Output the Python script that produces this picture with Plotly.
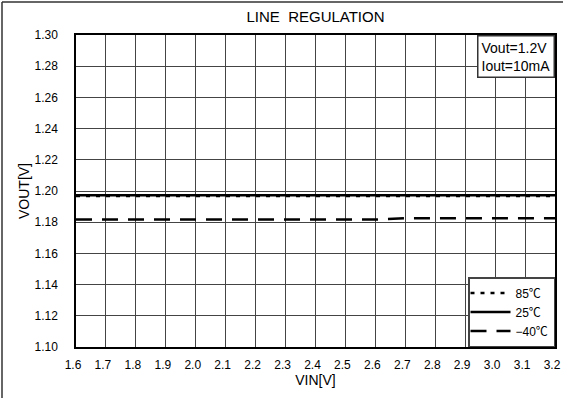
import plotly.graph_objects as go

vin = [1.6, 1.7, 1.8, 1.9, 2.0, 2.1, 2.2, 2.3, 2.4, 2.5, 2.6, 2.7, 2.8, 2.9, 3.0, 3.1, 3.2]
vout_85 = [1.1968] * 17
vout_25 = [1.1972] * 17
vout_m40 = [1.1817, 1.1817, 1.1817, 1.1817, 1.1817, 1.1817, 1.1817, 1.1817, 1.1817, 1.1817, 1.1817,
            1.1826, 1.1826, 1.1826, 1.1826, 1.1826, 1.1826]
series_names = ["85℃", "25℃", "−40℃"]

FONT = "Liberation Sans, Noto Sans CJK JP, sans-serif"

fig = go.Figure()
fig.add_trace(go.Scatter(x=vin, y=vout_85, mode="lines", name=series_names[0],
                         line=dict(color="black", width=2.5, dash="4px,6px")))
fig.add_trace(go.Scatter(x=vin, y=vout_25, mode="lines", name=series_names[1],
                         line=dict(color="black", width=2.5)))
fig.add_trace(go.Scatter(x=vin, y=vout_m40, mode="lines", name=series_names[2],
                         line=dict(color="black", width=2.5, dash="16px,10px")))

W, H = 563, 398
L, R, T, B = 76, 8, 35, 51
pw, ph = W - L - R, H - T - B

def px(x):
    return (x - L) / pw

def py(y):
    return (H - B - y) / ph

fig.update_layout(
    width=W, height=H,
    margin=dict(l=L, r=R, t=T, b=B, autoexpand=False),
    paper_bgcolor="white", plot_bgcolor="white",
    font=dict(family=FONT, size=12, color="black"),
    title=dict(text="LINE  REGULATION", x=px(315.5), xanchor="center", y=1 - 17 / H, yanchor="middle",
               xref="paper", font=dict(size=15, family=FONT)),
    showlegend=True,
    legend=dict(x=1, xanchor="right", y=0, yanchor="bottom", bgcolor="white",
                bordercolor="#444", borderwidth=1.5, font=dict(size=12, family=FONT),
                itemwidth=40, tracegroupgap=0, indentation=-4),
    xaxis=dict(range=[1.6, 3.2], dtick=0.1, tick0=1.6, tickformat=".1f",
               showgrid=True, gridcolor="#444", gridwidth=1,
               showline=True, linecolor="black", linewidth=1.5, mirror=True,
               ticks="", ticklabelstandoff=6, ticklabelshift=-3, zeroline=False, automargin=False,
               tickfont=dict(size=12),
               title=dict(text="VIN[V]", standoff=0, font=dict(size=14, family=FONT))),
    yaxis=dict(range=[1.10, 1.30], dtick=0.02, tick0=1.10, tickformat=".2f",
               showgrid=True, gridcolor="#444", gridwidth=1,
               showline=True, linecolor="black", linewidth=1.5, mirror=True,
               ticks="", ticklabelstandoff=14, zeroline=False, automargin=False,
               tickfont=dict(size=12),
               title=dict(text="VOUT[V]", standoff=2, font=dict(size=14, family=FONT))),
    shapes=[
        dict(type="line", xref="paper", yref="paper", x0=px(2), x1=px(2), y0=py(2), y1=py(H + 5),
             line=dict(color="#333", width=1.5)),
        dict(type="line", xref="paper", yref="paper", x0=px(2), x1=px(W + 5), y0=py(2), y1=py(2),
             line=dict(color="#333", width=1.5)),
    ],
    annotations=[
        dict(text="Vout=1.2V<br>Iout=10mA", xref="paper", yref="paper", x=1, y=1,
             xanchor="right", yanchor="top", showarrow=False, align="left",
             bgcolor="white", bordercolor="#333", borderwidth=1.5, borderpad=3,
             font=dict(size=14, family=FONT)),
    ],
)

fig.write_html("out.html", config={"displayModeBar": False},
               post_script="document.body.style.margin='0';document.body.style.overflow='hidden';")
